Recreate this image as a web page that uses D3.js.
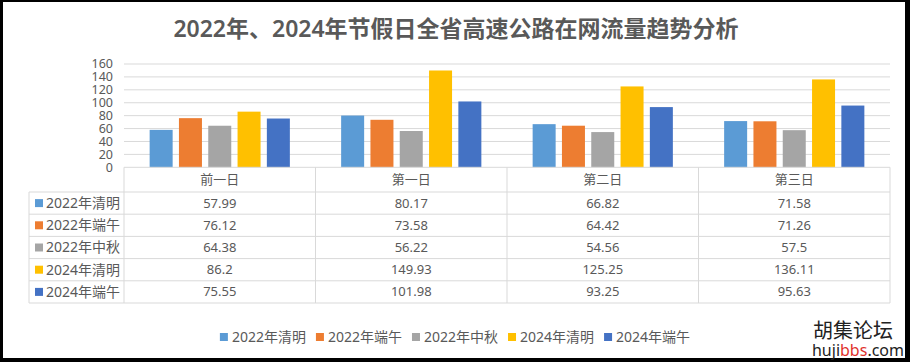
<!DOCTYPE html>
<html>
<head>
<meta charset="utf-8">
<script src="https://cdn.jsdelivr.net/npm/d3@7"></script>
<style>
  body { margin: 0; background: #000; }
  text { font-family: "Noto Sans", "Noto Sans CJK SC", sans-serif; }
</style>
</head>
<body>
<div id="chart"></div>
<script>
var categories = ["前一日", "第一日", "第二日", "第三日"];
var seriesNames = ["2022年清明", "2022年端午", "2022年中秋", "2024年清明", "2024年端午"];
var colors = ["#5B9BD5", "#ED7D31", "#A5A5A5", "#FFC000", "#4472C4"];
var values = [
  [57.99, 80.17, 66.82, 71.58],
  [76.12, 73.58, 64.42, 71.26],
  [64.38, 56.22, 54.56, 57.5],
  [86.2, 149.93, 125.25, 136.11],
  [75.55, 101.98, 93.25, 95.63]
];
var labels = [
  ["57.99", "80.17", "66.82", "71.58"],
  ["76.12", "73.58", "64.42", "71.26"],
  ["64.38", "56.22", "54.56", "57.5"],
  ["86.2", "149.93", "125.25", "136.11"],
  ["75.55", "101.98", "93.25", "95.63"]
];
var yTicks = [0, 20, 40, 60, 80, 100, 120, 140, 160];

var W = 910, H = 362;
var textCol = "#595959", lineCol = "#d9d9d9";

var svg = d3.select("#chart").append("svg")
  .attr("width", W).attr("height", H);

// black frame around the picture
svg.append("rect").attr("width", W).attr("height", H).attr("fill", "#000");
svg.append("rect").attr("x", 3).attr("y", 2).attr("width", 902).attr("height", 356)
  .attr("fill", "#fff");

// title
svg.append("text")
  .attr("x", 456).attr("y", 37)
  .attr("text-anchor", "middle")
  .attr("font-size", 23).attr("font-weight", 600)
  .attr("fill", textCol)
  .text("2022年、2024年节假日全省高速公路在网流量趋势分析");

var x = d3.scaleBand().domain(categories).range([124, 890]);
var x1 = d3.scaleBand().domain(seriesNames).range([0, x.bandwidth()])
  .paddingInner(0.215).paddingOuter(0.875);
var y = d3.scaleLinear().domain([0, 160]).range([167.3, 64]);

// gridlines
svg.append("g").selectAll("line")
  .data(yTicks.filter(function(d) { return d > 0; }))
  .join("line")
    .attr("x1", 124).attr("x2", 890)
    .attr("y1", function(d) { return y(d); })
    .attr("y2", function(d) { return y(d); })
    .attr("stroke", lineCol).attr("stroke-width", 1);

// y labels
svg.append("g").selectAll("text")
  .data(yTicks)
  .join("text")
    .attr("x", 113)
    .attr("y", function(d) { return y(d); })
    .attr("dy", "0.35em")
    .attr("text-anchor", "end")
    .attr("font-size", 12.5)
    .attr("fill", textCol)
    .text(function(d) { return d; });

// bars
svg.append("g").selectAll("g")
  .data(seriesNames)
  .join("g")
    .attr("fill", function(d, i) { return colors[i]; })
  .selectAll("rect")
  .data(function(d, i) {
    return categories.map(function(c, j) { return { s: d, c: c, v: values[i][j] }; });
  })
  .join("rect")
    .attr("x", function(d) { return x(d.c) + x1(d.s); })
    .attr("width", x1.bandwidth())
    .attr("y", function(d) { return y(d.v); })
    .attr("height", function(d) { return y(0) - y(d.v); });

// data table
var rows = d3.scaleBand().domain(seriesNames).range([192, 303]);
var tbl = svg.append("g").attr("stroke", lineCol).attr("stroke-width", 1);
tbl.append("line").attr("x1", 124).attr("x2", 890).attr("y1", y(0)).attr("y2", y(0));
seriesNames.forEach(function(s) {
  tbl.append("line").attr("x1", 29).attr("x2", 890)
    .attr("y1", rows(s)).attr("y2", rows(s));
});
tbl.append("line").attr("x1", 29).attr("x2", 890).attr("y1", 303).attr("y2", 303);
tbl.append("line").attr("x1", 29).attr("x2", 29).attr("y1", 192).attr("y2", 303);
categories.forEach(function(c) {
  tbl.append("line").attr("x1", x(c)).attr("x2", x(c)).attr("y1", y(0)).attr("y2", 303);
});
tbl.append("line").attr("x1", 890).attr("x2", 890).attr("y1", y(0)).attr("y2", 303);

// header
svg.append("g").selectAll("text")
  .data(categories)
  .join("text")
    .attr("x", function(d) { return x(d) + x.bandwidth() / 2; })
    .attr("y", (y(0) + 192) / 2)
    .attr("dy", "0.35em")
    .attr("text-anchor", "middle")
    .attr("font-size", 13)
    .attr("fill", textCol)
    .text(function(d) { return d; });

// row keys + values
seriesNames.forEach(function(s, i) {
  var cy = rows(s) + rows.bandwidth() / 2;
  svg.append("rect").attr("x", 35).attr("y", cy - 4).attr("width", 8).attr("height", 8)
    .attr("fill", colors[i]);
  svg.append("text").attr("x", 46).attr("y", cy).attr("dy", "0.35em")
    .attr("font-size", 14).attr("fill", textCol).text(s);
  categories.forEach(function(c, j) {
    svg.append("text")
      .attr("x", x(c) + x.bandwidth() / 2).attr("y", cy).attr("dy", "0.35em")
      .attr("text-anchor", "middle")
      .attr("font-size", 13).attr("fill", textCol)
      .text(labels[i][j]);
  });
});

// bottom legend
var lg = svg.append("g");
var lx = 0;
seriesNames.forEach(function(s, i) {
  var it = lg.append("g").attr("transform", "translate(" + lx + ",0)");
  it.append("rect").attr("x", 0).attr("y", -4).attr("width", 8).attr("height", 8)
    .attr("fill", colors[i]);
  var t = it.append("text").attr("x", 12).attr("dy", "0.35em")
    .attr("font-size", 14).attr("fill", textCol).text(s);
  lx += 12 + t.node().getComputedTextLength() + 10;
});
lg.attr("transform", "translate(" + (455 - (lx - 10) / 2) + ",337)");

// watermark
svg.append("text").attr("x", 893).attr("y", 338).attr("text-anchor", "end")
  .attr("font-size", 20).attr("fill", "#222").text("胡集论坛");
var wm = svg.append("text").attr("x", 904).attr("y", 356).attr("text-anchor", "end")
  .attr("font-size", 16).attr("fill", "#222");
wm.append("tspan").text("huji");
wm.append("tspan").attr("fill", "#e0312b").text("bbs");
wm.append("tspan").text(".com");
</script>
</body>
</html>
